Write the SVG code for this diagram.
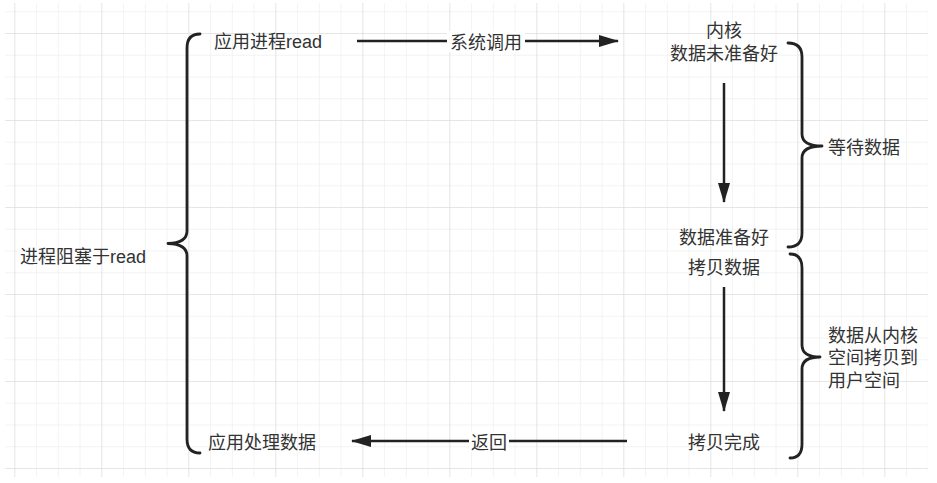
<svg xmlns="http://www.w3.org/2000/svg" width="937" height="483" viewBox="0 0 937 483">
<defs>
<pattern id="minor" x="14.3" y="11.25" width="21.75" height="21.75" patternUnits="userSpaceOnUse">
<path d="M0,0 H21.75 M0,0 V21.75" fill="none" stroke="#e8e8e8" stroke-width="1"/>
</pattern>
<pattern id="major" x="14.3" y="33" width="87" height="87" patternUnits="userSpaceOnUse">
<path d="M0,0 H87 M0,0 V87" fill="none" stroke="#d9d9d9" stroke-width="1"/>
</pattern>
<marker id="arrow" viewBox="0 0 20 12" refX="19" refY="6" markerWidth="20" markerHeight="12" markerUnits="userSpaceOnUse" orient="auto">
<path d="M0,0 L20,6 L0,12 Z" fill="#222"/>
</marker>
<style>
text{font-family:"Liberation Sans","Noto Sans CJK SC",sans-serif;font-size:18px;fill:#333}
.c{text-anchor:middle}
.conn{fill:none;stroke:#222;stroke-width:2.5}
.brace{fill:none;stroke:#222;stroke-width:2.8;stroke-linejoin:round;stroke-linecap:round}
.lbg{fill:#fff}
</style>
</defs>
<rect width="937" height="483" fill="#fff"/>
<g id="grid">
<rect x="5" y="3" width="923" height="474" fill="url(#minor)"/>
<rect x="5" y="3" width="923" height="474" fill="url(#major)"/>
</g>
<g id="connectors">
<line class="conn" x1="357" y1="41" x2="618" y2="41" marker-end="url(#arrow)"/>
<line class="conn" x1="724" y1="83" x2="724" y2="202" marker-end="url(#arrow)"/>
<line class="conn" x1="724" y1="287" x2="724" y2="411" marker-end="url(#arrow)"/>
<line class="conn" x1="627" y1="441" x2="352" y2="441" marker-end="url(#arrow)"/>
<rect class="lbg" x="447" y="31" width="78" height="21"/>
<text class="c" x="486" y="48.5">系统调用</text>
<rect class="lbg" x="469" y="431" width="40" height="21"/>
<text class="c" x="489" y="448.5">返回</text>
</g>
<g id="brace-left">
<path class="brace" d="M200,34 Q187,34 187,48 L187,231 Q187,243 168,243.5 Q187,244 187,256 L187,439 Q187,453 200,453"/>
<text class="c" x="83" y="262.5">进程阻塞于read</text>
</g>
<g id="brace-wait">
<path class="brace" d="M788,43 Q802,43 802,57 L802,134 Q802,146 822,146 Q802,146 802,158 L802,233 Q802,247 788,247"/>
<text x="828" y="153.5">等待数据</text>
</g>
<g id="brace-copy">
<path class="brace" d="M790,254 Q802,254 802,268 L802,345 Q802,357 820,357 Q802,357 802,369 L802,444 Q802,458 790,458"/>
<text x="828" y="341.5">数据从内核<tspan x="828" dy="22.5">空间拷贝到</tspan><tspan x="828" dy="22.5">用户空间</tspan></text>
</g>
<g id="app-read"><text class="c" x="268" y="47.5">应用进程read</text></g>
<g id="kernel-not-ready"><text class="c" x="724" y="36.5">内核<tspan x="724" dy="23">数据未准备好</tspan></text></g>
<g id="data-ready"><text class="c" x="724" y="243.5">数据准备好</text></g>
<g id="copy-data"><text class="c" x="724" y="273.5">拷贝数据</text></g>
<g id="copy-done"><text class="c" x="724" y="448.5">拷贝完成</text></g>
<g id="app-process"><text class="c" x="262" y="448.5">应用处理数据</text></g>
</svg>
